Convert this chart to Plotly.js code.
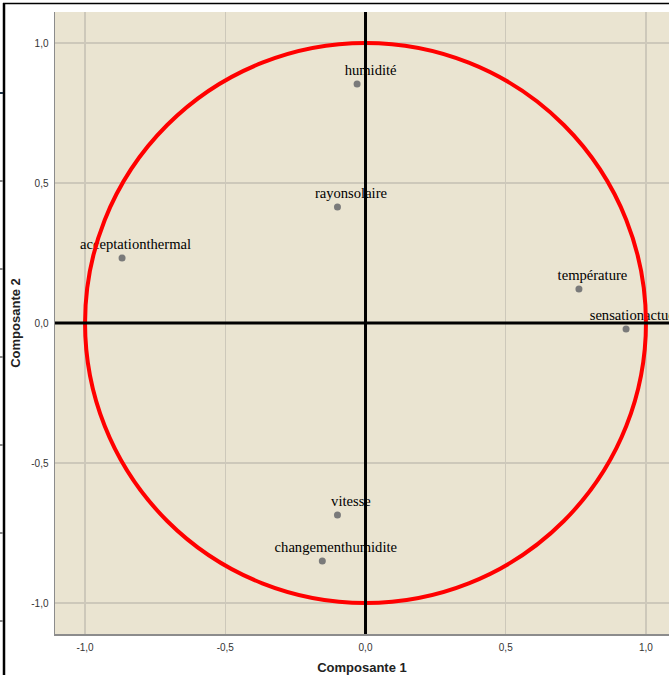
<!DOCTYPE html>
<html>
<head>
<meta charset="utf-8">
<script src="https://cdn.plot.ly/plotly-3.0.1.min.js"></script>
<style>
  html, body { margin: 0; padding: 0; background: #ffffff; }
  #chart { width: 669px; height: 675px; }
</style>
</head>
<body>
<div id="chart"></div>
<script>
// ---- Data (component loadings) ----
const variables = ['humidité', 'rayonsolaire', 'acceptationthermal', 'température', 'sensationactuelle', 'vitesse', 'changementhumidite'];
const composante1 = [-0.03, -0.10, -0.868, 0.761, 0.929, -0.10, -0.154];
const composante2 = [0.854, 0.414, 0.232, 0.121, -0.021, -0.686, -0.85];

const tickValues = [-1, -0.5, 0, 0.5, 1];
const tickLabels = ['-1,0', '-0,5', '0,0', '0,5', '1,0'];

// ---- Geometry ----
const W = 669, H = 675;
const M = { l: 55, r: 0, t: 12, b: 41 };
const xRange = [-1.1071, 1.0821];
const yRange = [-1.1107, 1.1107];
const plotW = W - M.l - M.r, plotH = H - M.t - M.b;
const pxPerX = plotW / (xRange[1] - xRange[0]);
const pxPerY = plotH / (yRange[1] - yRange[0]);
// label offset from its marker, in pixels
const LABEL_DX = 13.5, LABEL_DY = 12.5;
const labelX = composante1.map(v => v + LABEL_DX / pxPerX);
const labelY = composante2.map(v => v + LABEL_DY / pxPerY);

const xp = px => (px - M.l) / plotW;
const yp = py => (H - M.b - py) / plotH;

const traces = [
  {
    type: 'scatter', mode: 'text',
    x: labelX, y: labelY, text: variables,
    textposition: 'middle center',
    textfont: { family: 'Liberation Serif, Times New Roman, serif', size: 14.6, color: '#000000' },
    hoverinfo: 'skip', showlegend: false
  },
  {
    type: 'scatter', mode: 'markers',
    x: composante1, y: composante2,
    marker: { color: '#7a7a7a', size: 7 },
    showlegend: false
  }
];

const shapes = [
  // unit circle
  { type: 'circle', xref: 'x', yref: 'y', x0: -1, x1: 1, y0: -1, y1: 1,
    line: { color: '#ff0000', width: 4 }, layer: 'above' },
  // reference axes through the origin
  { type: 'line', xref: 'paper', yref: 'y', x0: 0, x1: 1, y0: 0, y1: 0,
    line: { color: '#000000', width: 3 }, layer: 'above' },
  { type: 'line', xref: 'x', yref: 'paper', x0: 0, x1: 0, y0: 0, y1: 1,
    line: { color: '#000000', width: 3 }, layer: 'above' },
  // window frame around the picture (screenshot border)
  { type: 'line', xref: 'paper', yref: 'paper', x0: xp(3), x1: xp(669), y0: yp(3.5), y1: yp(3.5),
    line: { color: '#000000', width: 1.5 }, layer: 'above' },
  { type: 'line', xref: 'paper', yref: 'paper', x0: xp(4), x1: xp(4), y0: yp(3), y1: yp(675),
    line: { color: '#000000', width: 2.5 }, layer: 'above' }
];
[93, 181, 269, 357, 445, 533, 621].forEach((py, i) => {
  shapes.push({ type: 'line', xref: 'paper', yref: 'paper', x0: xp(0), x1: xp(3), y0: yp(py), y1: yp(py),
    line: { color: i === 0 ? '#1f3346' : '#8a8a8a', width: 2 }, layer: 'above' });
});

const axisCommon = {
  tickvals: tickValues, ticktext: tickLabels,
  showgrid: true, gridcolor: '#cdc8ba', gridwidth: 1.5,
  zeroline: false,
  showline: true, linecolor: '#8c8c8c', linewidth: 1.5,
  ticks: 'outside', ticklen: 3, tickcolor: 'rgba(0,0,0,0)',
  tickfont: { family: 'Liberation Sans, Arial, sans-serif', size: 10, color: '#333333' },
  fixedrange: true, automargin: false
};

const layout = {
  width: W, height: H,
  margin: M,
  paper_bgcolor: '#ffffff',
  plot_bgcolor: '#eae4d1',
  showlegend: false,
  xaxis: Object.assign({}, axisCommon, {
    range: xRange,
    title: { text: 'Composante 1', standoff: 12,
      font: { family: 'Liberation Sans, Arial, sans-serif', size: 13, color: '#222222', weight: 'bold' } }
  }),
  yaxis: Object.assign({}, axisCommon, {
    range: yRange,
    title: { text: 'Composante 2', standoff: 7,
      font: { family: 'Liberation Sans, Arial, sans-serif', size: 13, color: '#222222', weight: 'bold' } }
  }),
  shapes: shapes
};

Plotly.newPlot('chart', traces, layout, { staticPlot: true, displayModeBar: false });
</script>
</body>
</html>
